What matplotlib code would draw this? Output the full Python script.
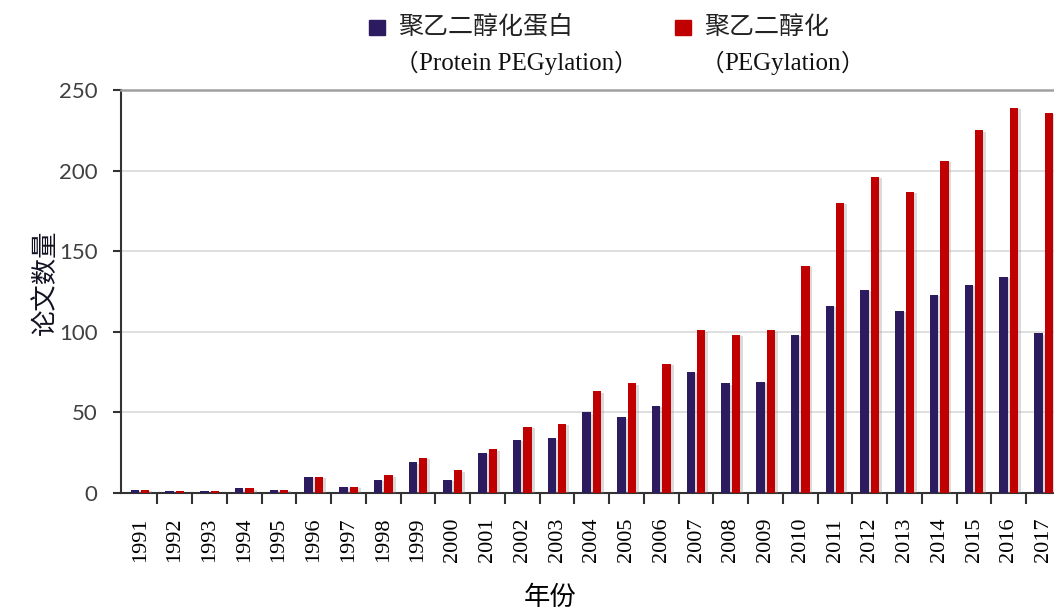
import numpy as np
import matplotlib
matplotlib.use("Agg")
import matplotlib.pyplot as plt
import matplotlib.patheffects as pe
from matplotlib.patches import Rectangle

# values
years = [str(y) for y in range(1991, 2018)]
protein_peg = [2, 1, 1, 3, 2, 10, 4, 8, 19, 8, 25, 33, 34, 50, 47, 54, 75, 68, 69, 98,
               116, 126, 113, 123, 129, 134, 99]
peg = [2, 1, 1, 3, 2, 10, 4, 11, 22, 14, 27, 41, 43, 63, 68, 80, 101, 98, 101, 141,
       180, 196, 187, 206, 225, 239, 236]
series_names = ["聚乙二醇化蛋白", "聚乙二醇化"]
series_notes = ["Protein PEGylation", "PEGylation"]
colors = ["#2c1b5e", "#c00000"]

cjk = ["Noto Sans CJK SC", "DejaVu Sans"]
serif = ["Liberation Serif", "Noto Sans CJK SC"]

fig = plt.figure(figsize=(10.54, 6.10), dpi=100)
ax = fig.add_axes([121 / 1054, 1 - 493 / 610, 1 - 121 / 1054, (493 - 90) / 610])

x = np.arange(len(years))
w = 0.24
shadow = [pe.SimplePatchShadow(offset=(2, -1), shadow_rgbFace="#999999", alpha=0.35), pe.Normal()]
b1 = ax.bar(x - 0.15, protein_peg, w, color=colors[0], zorder=3)
b2 = ax.bar(x + 0.15, peg, w, color=colors[1], zorder=3)
for bars in (b1, b2):
    for p in bars:
        p.set_path_effects(shadow)

ax.set_xlim(-0.55, 26.3)
ax.set_ylim(0, 250)
ax.set_yticks(range(0, 251, 50))
ax.yaxis.grid(True, color="#d9d9d9", lw=1.2, zorder=0)
ax.set_axisbelow(True)

# ticks between groups, labels at group centres
ax.set_xticks(x[:-1] + 0.5)
ax.set_xticklabels([])
ax.set_xticks(x, minor=True)
ax.set_xticklabels(years, minor=True, rotation=90, fontsize=16, family=serif)
ax.tick_params(axis="x", which="major", length=8, width=1.5, color="#333333", direction="out")
ax.tick_params(axis="x", which="minor", length=0, pad=18)
ax.tick_params(axis="y", length=6, width=1.5, color="#333333", pad=11,
               labelsize=16, labelcolor="#404040")
for lab in ax.get_yticklabels():
    lab.set_family(["Lato", "DejaVu Sans"])

ax.spines["left"].set_color("#333333")
ax.spines["left"].set_linewidth(1.5)
ax.spines["bottom"].set_color("#333333")
ax.spines["bottom"].set_linewidth(1.5)
ax.spines["top"].set_color("#a0a0a0")
ax.spines["top"].set_linewidth(1.8)
ax.spines["right"].set_visible(False)

fig.text(45 / 1054, 1 - 282 / 610, "论文数量", rotation=90, ha="center", va="center",
         fontsize=19, family=cjk, color="#111122")
fig.text(550 / 1054, 1 - 597 / 610, "年份", ha="center", va="center",
         fontsize=19, family=cjk)

# legend drawn by hand: square + name + English note in full-width brackets
for i, (name, note) in enumerate(zip(series_names, series_notes)):
    sx = [369, 675][i]
    fig.patches.append(Rectangle((sx / 1054, 1 - 35 / 610), 16 / 1054, 15 / 610,
                                 transform=fig.transFigure, color=colors[i]))
    fig.text((sx + 29) / 1054, 1 - 27 / 610, name, ha="left", va="center",
             fontsize=18, family=cjk, color="#222222")
    lp = fig.text((sx + 26) / 1054, 1 - 64 / 610, "（", ha="left", va="center",
                  fontsize=17, family=cjk, color="#111111")
    en = plt.annotate(note, xy=(1, 0.5), xycoords=lp, ha="left", va="center",
                      fontsize=18, family=serif, color="#111111")
    plt.annotate("）", xy=(1, 0.5), xycoords=en, ha="left", va="center",
                 fontsize=17, family=cjk, color="#111111")

fig.savefig("out.png", dpi=100)
